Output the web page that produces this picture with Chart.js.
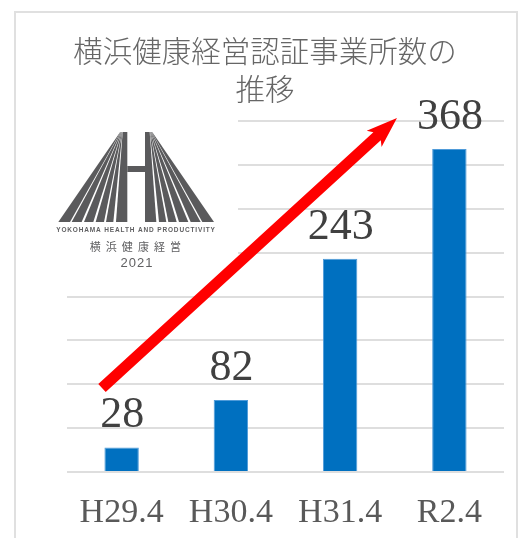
<!DOCTYPE html>
<html><head><meta charset="utf-8">
<script src="https://cdn.jsdelivr.net/npm/chart.js@4"></script>
<style>
html,body{margin:0;padding:0;background:#fff;width:522px;height:538px;overflow:hidden}
#frame{position:absolute;left:14px;top:11px;width:504px;height:540px;border:2px solid #e0e0e0;box-sizing:border-box}
#wrap{position:absolute;left:0;top:0;width:522px;height:538px}
</style></head><body>
<div id="frame"></div>
<div id="wrap"><canvas id="c" width="522" height="538"></canvas></div>
<script>
const categories = ["H29.4","H30.4","H31.4","R2.4"];
const values = [28,82,243,368];
const titleLines = ["横浜健康経営認証事業所数の","推移"];
const logoLines = ["YOKOHAMA HEALTH AND PRODUCTIVITY","横 浜 健 康 経 営","2021"];
const serif = '"Liberation Serif","Noto Sans CJK JP",serif';

const logoMask = {
  id:'logoMask',
  beforeDatasetsDraw(chart){
    const {ctx}=chart;
    ctx.save();ctx.fillStyle='#fff';ctx.fillRect(40,100,198,180);ctx.restore();
  }
};
const titleText = {
  id:'titleText',
  afterDraw(chart){
    const {ctx}=chart;
    ctx.save();ctx.fillStyle='#666';ctx.textAlign='center';ctx.textBaseline='middle';
    ctx.font='300 29.5px "Noto Sans CJK JP",sans-serif';
    ctx.fillText(titleLines[0],265,51);
    ctx.fillText(titleLines[1],265,89);
    ctx.restore();
  }
};
const decor = {
  id:'decor',
  afterDatasetsDraw(chart){
    const {ctx} = chart;
    // red arrow
    const x0=102,y0=388,x1=397,y1=118;
    const a=Math.atan2(y1-y0,x1-x0);
    ctx.save();
    ctx.translate(x0,y0);ctx.rotate(a);
    const L=Math.hypot(x1-x0,y1-y0);
    ctx.fillStyle='#ff0000';
    ctx.beginPath();
    ctx.moveTo(0,-5.5);ctx.lineTo(L-27,-5.5);ctx.lineTo(L-31,-11);ctx.lineTo(L,0);
    ctx.lineTo(L-31,11);ctx.lineTo(L-27,5.5);ctx.lineTo(0,5.5);ctx.closePath();ctx.fill();
    ctx.restore();
    // logo
    ctx.save();
    ctx.fillStyle='#5a5a5c';
    const Z=v=>30+v/3, top=132, base=222;
    const stripes=[[278,292,258,292],[276.5,277.2,228,250],[275,276,197,222],[273.5,274.5,162,190],[272,273,125,155],[270.5,271.5,85,120]];
    const mirror=v=>Z(637-v);
    stripes.forEach(([t1,t2,b1,b2])=>{
      ctx.beginPath();ctx.moveTo(Z(t1),top);ctx.lineTo(Z(t2),top);ctx.lineTo(Z(b2),base);ctx.lineTo(Z(b1),base);ctx.closePath();ctx.fill();
      ctx.beginPath();ctx.moveTo(mirror(t1),top);ctx.lineTo(mirror(t2),top);ctx.lineTo(mirror(b2),base);ctx.lineTo(mirror(b1),base);ctx.closePath();ctx.fill();
    });
    ctx.fillRect(Z(292),166,Z(345)-Z(292),6);
    ctx.fillStyle='#606062';
    ctx.textAlign='center';ctx.textBaseline='middle';
    ctx.font='bold 6.5px "Liberation Sans",sans-serif';
    if('letterSpacing' in ctx) ctx.letterSpacing='0.85px';
    ctx.fillText(logoLines[0],136,230);
    ctx.font='11px "Noto Sans CJK JP",sans-serif';
    if('letterSpacing' in ctx) ctx.letterSpacing='1.3px';
    ctx.fillText(logoLines[1],136,247);
    ctx.font='13px "Liberation Sans",sans-serif';
    if('letterSpacing' in ctx) ctx.letterSpacing='1px';
    ctx.fillText(logoLines[2],137,263);
    ctx.restore();
  }
};
const valueLabels = {
  id:'valueLabels',
  afterDatasetsDraw(chart){
    const {ctx}=chart;const m=chart.getDatasetMeta(0);
    ctx.save();ctx.fillStyle='#404040';ctx.font='44px '+serif;ctx.textAlign='center';ctx.textBaseline='alphabetic';
    m.data.forEach((b,i)=>{ctx.fillText(String(values[i]),b.x+0.5,b.y-20);});
    ctx.restore();
  }
};
new Chart(document.getElementById('c'),{
  type:'bar',
  data:{labels:categories,datasets:[{data:values,backgroundColor:'#0070c0',borderColor:'#4f9bd9',borderWidth:1,barPercentage:0.315,categoryPercentage:1}]},
  options:{
    responsive:false,animation:false,
    layout:{padding:{left:67,right:18,top:121,bottom:0}},
    plugins:{legend:{display:false},tooltip:{enabled:false},title:{display:false}},
    scales:{
      x:{afterFit(s){s.height=66;},grid:{display:false,drawTicks:false},border:{display:false},
         ticks:{color:'#595959',font:{family:serif,size:34},padding:21,maxRotation:0,autoSkip:false}},
      y:{min:0,max:400,afterFit(s){s.width=0;},grid:{color:'#dedede',lineWidth:2,drawTicks:false},border:{display:false},
         ticks:{display:false,stepSize:50}}
    }
  },
  plugins:[logoMask,valueLabels,decor,titleText]
});
</script>
</body></html>
